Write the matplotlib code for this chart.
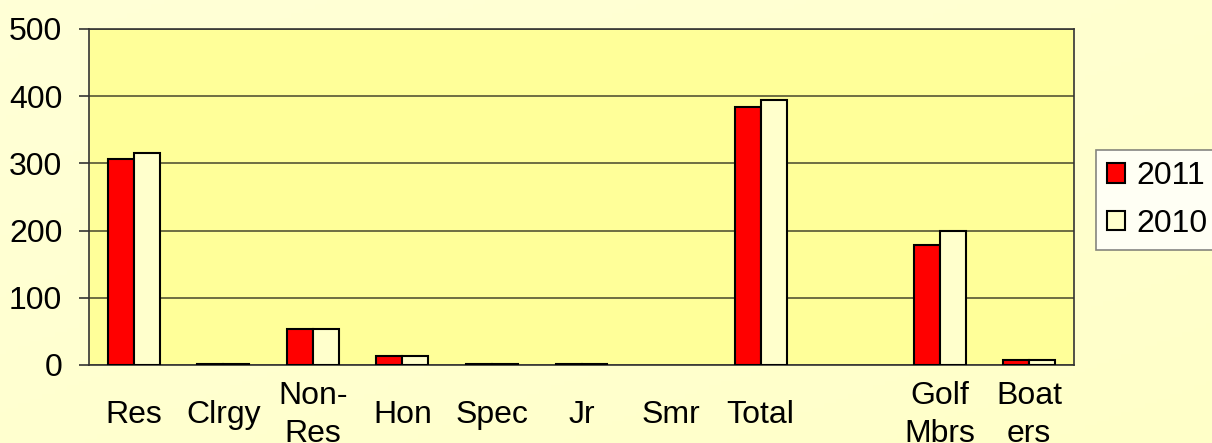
import matplotlib
matplotlib.use("Agg")
import matplotlib.pyplot as plt
import numpy as np

categories = ["Res", "Clrgy", "Non-\nRes", "Hon", "Spec", "Jr", "Smr", "Total", "", "Golf\nMbrs", "Boat\ners"]
values_2011 = [306, 2, 53, 14, 2, 2, 0, 384, 0, 178, 8]
values_2010 = [315, 2, 53, 14, 2, 2, 0, 394, 0, 200, 8]
series_labels = ["2011", "2010"]
yticks = [0, 100, 200, 300, 400, 500]

plt.rcParams['font.family'] = ['Liberation Sans', 'DejaVu Sans']

W, H, DPI = 1212, 443, 100
FS = 23
fig = plt.figure(figsize=(W / DPI, H / DPI), dpi=DPI)
fig.patch.set_facecolor('#FFFFCC')

# subtle background gradient
bg = fig.add_axes([0, 0, 1, 1], zorder=-10)
gx = np.linspace(0, 1, 200)
gy = np.linspace(0, 1, 100)
GX, GY = np.meshgrid(gx, gy)
t = np.clip(0.5 * GX + 0.5 * GY, 0, 1)
c0 = np.array([255, 255, 215]) / 255.0
c1 = np.array([255, 255, 200]) / 255.0
img = c0[None, None, :] * (1 - t[..., None]) + c1[None, None, :] * t[..., None]
bg.imshow(img, aspect='auto', extent=[0, 1, 0, 1], origin='upper')
bg.set_axis_off()

left, right, top, bottom = 89, 1074, 29, 365
ax = fig.add_axes([left / W, 1 - bottom / H, (right - left) / W, (bottom - top) / H])
ax.set_facecolor('#FFFF99')

x = np.arange(len(categories))
bw = 0.29
lw1 = [1.5 if v > 0 else 0 for v in values_2011]
lw2 = [1.5 if v > 0 else 0 for v in values_2010]
ax.bar(x - bw / 2, values_2011, bw, color='#FF0000', edgecolor='black', linewidth=lw1, label=series_labels[0], zorder=3)
ax.bar(x + bw / 2, values_2010, bw, color='#FFFFCC', edgecolor='black', linewidth=lw2, label=series_labels[1], zorder=3)

ax.set_xlim(-0.5, len(categories) - 0.5)
ax.set_ylim(0, 500)
ax.set_yticks(yticks)
ax.set_yticklabels([str(v) for v in yticks], fontsize=FS)
ax.yaxis.grid(True, color='#555533', linewidth=1.2, zorder=1)
ax.set_axisbelow(True)
ax.tick_params(axis='y', length=7.2, width=1.2, color='#333333', pad=12)

ax.set_xticks(x)
ax.set_xticklabels(categories, fontsize=FS, linespacing=1.35)
ax.tick_params(axis='x', length=0, pad=36)
for lbl in ax.get_xticklabels():
    lbl.set_va('center')

for s in ax.spines.values():
    s.set_color('#333333')
    s.set_linewidth(1.2)

leg = ax.legend(loc='upper left', bbox_to_anchor=(1096 / W, 1 - 150 / H), bbox_transform=fig.transFigure,
                fontsize=FS, frameon=True, fancybox=False, handlelength=0.55, handleheight=0.55,
                handletextpad=0.35, borderpad=0.35, labelspacing=0.55, borderaxespad=0)
leg.get_frame().set_edgecolor('#666666')
leg.get_frame().set_linewidth(1.2)
leg.get_frame().set_facecolor('white')
for h in leg.legend_handles:
    h.set_linewidth(1.5)

fig.savefig('out.png', dpi=DPI, facecolor=fig.get_facecolor())
